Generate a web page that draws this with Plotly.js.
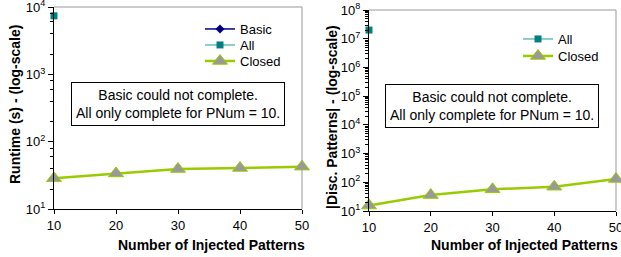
<!DOCTYPE html>
<html>
<head>
<meta charset="utf-8">
<script src="https://cdn.plot.ly/plotly-3.0.1.min.js"></script>
<style>html,body{margin:0;padding:0;background:#fff;}#chart{width:621px;height:257px;}</style>
</head>
<body>
<div id="chart"></div>
<script>
const pnum = [10, 20, 30, 40, 50];
const runtimeBasic = [null, null, null, null, null];
const runtimeAll = [7400, null, null, null, null];
const runtimeClosed = [28.8, 34, 39.6, 41, 42.9];
const patternsAll = [2.0e7, null, null, null, null];
const patternsClosed = [15.5, 36, 57, 70, 130];
const runtimeTicks = [10, 100, 1000, 10000];
const runtimeTickText = ['10<sup>1</sup>', '10<sup>2</sup>', '10<sup>3</sup>', '10<sup>4</sup>'];
const patternTicks = [1e1, 1e2, 1e3, 1e4, 1e5, 1e6, 1e7, 1e8];
const patternTickText = ['10<sup>1</sup>', '10<sup>2</sup>', '10<sup>3</sup>', '10<sup>4</sup>', '10<sup>5</sup>', '10<sup>6</sup>', '10<sup>7</sup>', '10<sup>8</sup>'];
const noteText = 'Basic could not complete.<br>All only complete for PNum = 10.';

// minor tick positions (axis decoration, not data)
function minorTicks(decades, mults) {
  const out = [];
  decades.forEach(d => mults.forEach(m => out.push(m * d)));
  return out;
}
const runtimeMinor = minorTicks([10, 100, 1000], [2, 4, 6, 8]);
const patternMinor = minorTicks([1e1, 1e2, 1e3, 1e4, 1e5, 1e6, 1e7], [2, 3, 4, 5, 6, 7, 8, 9]);

const FONT = 'Liberation Sans, Arial, sans-serif';
const basicStyle = {line: {color: '#000080', width: 1.5}, marker: {symbol: 'diamond', size: 7, color: '#000080'}};
const allStyle = {line: {color: '#66bcbc', width: 1.5}, marker: {symbol: 'square', size: 7, color: '#008080'}};
const closedStyle = {line: {color: '#99cc00', width: 2.5}, marker: {symbol: 'triangle-up', size: 13, color: '#999999', line: {color: '#99cc00', width: 1}}};

const traces = [
  Object.assign({x: pnum, y: runtimeBasic, name: 'Basic', mode: 'lines+markers', xaxis: 'x', yaxis: 'y', legend: 'legend', cliponaxis: false}, basicStyle),
  Object.assign({x: pnum, y: runtimeAll, name: 'All', mode: 'lines+markers', xaxis: 'x', yaxis: 'y', legend: 'legend2', cliponaxis: false}, allStyle),
  Object.assign({x: pnum, y: runtimeClosed, name: 'Closed', mode: 'lines+markers', xaxis: 'x', yaxis: 'y', legend: 'legend3', cliponaxis: false}, closedStyle),
  Object.assign({x: pnum, y: patternsAll, name: 'All', mode: 'lines+markers', xaxis: 'x2', yaxis: 'y2', legend: 'legend4', cliponaxis: false}, allStyle),
  Object.assign({x: pnum, y: patternsClosed, name: 'Closed', mode: 'lines+markers', xaxis: 'x2', yaxis: 'y2', legend: 'legend5', cliponaxis: false}, closedStyle)
];

const xBase = {
  range: [10, 50], tickvals: pnum, ticks: 'outside', ticklen: 4, tickcolor: '#000',
  showline: true, linecolor: '#000', linewidth: 1, showgrid: false, zeroline: false,
  ticklabeloverflow: 'allow',
  tickfont: {family: FONT, size: 13, color: '#000'}
};
const yBase = {
  type: 'log', ticks: 'outside', ticklen: 5, tickcolor: '#000',
  showline: true, linecolor: '#000', linewidth: 1, showgrid: false, zeroline: false,
  ticklabeloverflow: 'allow',
  tickfont: {family: FONT, size: 13, color: '#000'}
};

function legendAt(xPx, topPx) {
  return {x: xPx/621, y: 1 - topPx/257, xanchor: 'left', yanchor: 'top', bgcolor: 'rgba(0,0,0,0)', borderwidth: 0,
          font: {family: FONT, size: 13, color: '#000'}};
}

const layout = {
  width: 621, height: 257,
  margin: {l: 0, r: 0, t: 0, b: 0},
  paper_bgcolor: '#fff', plot_bgcolor: '#fff',
  font: {family: FONT, color: '#000'},
  xaxis: Object.assign({}, xBase, {domain: [54/621, 302/621], anchor: 'y'}),
  yaxis: Object.assign({}, yBase, {domain: [1 - 209.3/257, 1 - 7/257], range: [1, 4], tickvals: runtimeTicks, ticktext: runtimeTickText, anchor: 'x',
    minor: {tickmode: 'array', tickvals: runtimeMinor, ticks: 'outside', ticklen: 3, tickcolor: '#000', showgrid: false}}),
  xaxis2: Object.assign({}, xBase, {domain: [369/621, 616/621], anchor: 'y2'}),
  yaxis2: Object.assign({}, yBase, {domain: [1 - 211/257, 1 - 10/257], range: [1, 8], tickvals: patternTicks, ticktext: patternTickText, anchor: 'x2',
    minor: {tickmode: 'array', tickvals: patternMinor, ticks: 'outside', ticklen: 3, tickcolor: '#000', showgrid: false}}),
  showlegend: true,
  legend: legendAt(200, 14),
  legend2: legendAt(200, 30),
  legend3: legendAt(200, 46),
  legend4: legendAt(518, 24),
  legend5: legendAt(518, 41),
  shapes: [
    {type: 'line', xref: 'x domain', yref: 'y domain', x0: 0, x1: 1, y0: 1, y1: 1, line: {color: '#999', width: 1}},
    {type: 'line', xref: 'x domain', yref: 'y domain', x0: 1, x1: 1, y0: 0, y1: 1, line: {color: '#999', width: 1}},
    {type: 'line', xref: 'x2 domain', yref: 'y2 domain', x0: 0, x1: 1, y0: 1, y1: 1, line: {color: '#999', width: 1}},
    {type: 'line', xref: 'x2 domain', yref: 'y2 domain', x0: 1, x1: 1, y0: 0, y1: 1, line: {color: '#999', width: 1}}
  ],
  annotations: [
    {xref: 'paper', yref: 'paper', x: 178/621, y: 1 - 104/257, xanchor: 'center', yanchor: 'middle', text: noteText, showarrow: false, font: {family: FONT, size: 14, color: '#000'}, bordercolor: '#000', borderwidth: 1, borderpad: 4, bgcolor: '#fff', align: 'center'},
    {xref: 'paper', yref: 'paper', x: 492/621, y: 1 - 105.5/257, xanchor: 'center', yanchor: 'middle', text: noteText, showarrow: false, font: {family: FONT, size: 14, color: '#000'}, bordercolor: '#000', borderwidth: 1, borderpad: 4, bgcolor: '#fff', align: 'center'},
    {xref: 'paper', yref: 'paper', x: 211/621, y: 1 - 245/257, xanchor: 'center', yanchor: 'middle', text: '<b>Number of Injected Patterns</b>', showarrow: false, font: {family: FONT, size: 14, color: '#000'}},
    {xref: 'paper', yref: 'paper', x: 524/621, y: 1 - 245/257, xanchor: 'center', yanchor: 'middle', text: '<b>Number of Injected Patterns</b>', showarrow: false, font: {family: FONT, size: 14, color: '#000'}},
    {xref: 'paper', yref: 'paper', x: 15/621, y: 1 - 105/257, xanchor: 'center', yanchor: 'middle', text: '<b>Runtime (s) - (log-scale)</b>', textangle: -90, showarrow: false, font: {family: FONT, size: 14, color: '#000'}},
    {xref: 'paper', yref: 'paper', x: 332/621, y: 1 - 117/257, xanchor: 'center', yanchor: 'middle', text: '<b>|Disc. Patterns| - (log-scale)</b>', textangle: -90, showarrow: false, font: {family: FONT, size: 14, color: '#000'}}
  ]
};

Plotly.newPlot('chart', traces, layout, {staticPlot: true, displayModeBar: false});
</script>
</body>
</html>
